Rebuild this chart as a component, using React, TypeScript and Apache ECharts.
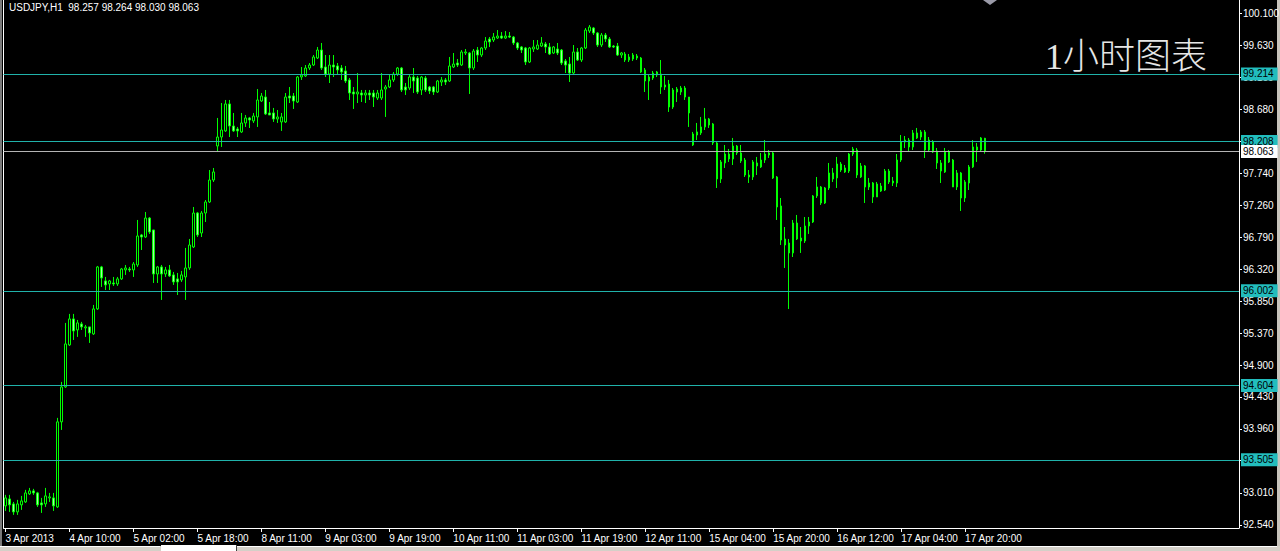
import React, { useEffect, useRef } from 'react';
import * as echarts from 'echarts';

const titleText = 'USDJPY,H1  98.257 98.264 98.030 98.063';
const noteText = '1小时图表';

const xTickLabels = [
  '3 Apr 2013', '4 Apr 10:00', '5 Apr 02:00', '5 Apr 18:00', '8 Apr 11:00', '9 Apr 03:00',
  '9 Apr 19:00', '10 Apr 11:00', '11 Apr 03:00', '11 Apr 19:00', '12 Apr 11:00', '15 Apr 04:00',
  '15 Apr 20:00', '16 Apr 12:00', '17 Apr 04:00', '17 Apr 20:00',
];
const barsPerTick = 16;
const slotCount = 309;

const yTickLabels = [
  '92.540', '93.010', '93.490', '93.960', '94.430', '94.900', '95.370', '95.850', '96.320',
  '96.790', '97.260', '97.740', '98.210', '98.680', '99.160', '99.630', '100.100',
];
const yMin = 92.492;
const yMax = 100.303;

const levelLines = [99.214, 98.208, 96.002, 94.604, 93.505];
const bidPrice = 98.063;

// [open, close, low, high] per H1 bar, from 3 Apr 18:00
const candles: number[][] = [
  [92.819, 92.937, 92.745, 92.982], [92.922, 92.834, 92.730, 92.982], [92.848, 92.730, 92.686, 92.878],
  [92.730, 92.848, 92.686, 92.908], [92.834, 92.893, 92.760, 92.967], [92.878, 93.011, 92.863, 93.056],
  [92.997, 93.041, 92.982, 93.085], [93.041, 93.011, 92.982, 93.071], [93.011, 92.834, 92.804, 93.026],
  [92.863, 92.834, 92.715, 92.937], [92.848, 92.967, 92.804, 93.085], [92.937, 92.952, 92.878, 93.011],
  [92.937, 92.819, 92.745, 93.011], [92.804, 94.062, 92.789, 94.121], [94.062, 94.579, 93.943, 94.653],
  [94.579, 95.215, 94.565, 95.526], [95.200, 95.585, 95.185, 95.659], [95.585, 95.407, 95.274, 95.659],
  [95.422, 95.526, 95.319, 95.570], [95.511, 95.467, 95.422, 95.541], [95.452, 95.467, 95.319, 95.496],
  [95.467, 95.378, 95.230, 95.467], [95.363, 95.733, 95.348, 95.792], [95.733, 96.354, 95.718, 96.369],
  [96.354, 96.191, 96.058, 96.369], [96.147, 96.088, 96.013, 96.206], [96.103, 96.147, 96.013, 96.162],
  [96.117, 96.103, 96.073, 96.206], [96.103, 96.177, 96.073, 96.206], [96.177, 96.324, 96.162, 96.339],
  [96.310, 96.339, 96.236, 96.383], [96.324, 96.310, 96.280, 96.354], [96.310, 96.398, 96.206, 96.427],
  [96.383, 96.812, 96.354, 97.049], [96.827, 96.797, 96.605, 96.842], [96.797, 97.078, 96.782, 97.167],
  [97.078, 96.871, 96.842, 97.093], [96.901, 96.250, 96.117, 96.901], [96.250, 96.354, 96.117, 96.369],
  [96.354, 96.250, 95.866, 96.383], [96.250, 96.310, 96.206, 96.354], [96.310, 96.221, 96.206, 96.383],
  [96.236, 96.132, 96.088, 96.280], [96.177, 96.132, 95.939, 96.265], [96.162, 96.236, 96.132, 96.295],
  [96.206, 96.339, 95.866, 96.635], [96.339, 96.679, 96.310, 96.768], [96.649, 97.152, 96.635, 97.241],
  [97.152, 96.827, 96.797, 97.167], [96.856, 97.152, 96.797, 97.182], [97.152, 97.315, 97.019, 97.344],
  [97.315, 97.640, 97.300, 97.788], [97.640, 97.759, 97.611, 97.818], [98.143, 98.276, 98.055, 98.558],
  [98.276, 98.380, 98.129, 98.779], [98.366, 98.765, 98.351, 98.824], [98.765, 98.439, 98.276, 98.824],
  [98.439, 98.366, 98.351, 98.632], [98.395, 98.366, 98.276, 98.425], [98.351, 98.484, 98.336, 98.632],
  [98.484, 98.558, 98.425, 98.602], [98.558, 98.528, 98.410, 98.573], [98.514, 98.587, 98.484, 98.632],
  [98.573, 98.824, 98.425, 98.986], [98.809, 98.883, 98.794, 98.927], [98.868, 98.617, 98.602, 98.972],
  [98.632, 98.602, 98.602, 98.794], [98.632, 98.543, 98.499, 98.706], [98.543, 98.573, 98.484, 98.676],
  [98.499, 98.573, 98.366, 98.632], [98.499, 98.868, 98.484, 98.927], [98.883, 98.853, 98.779, 99.016],
  [98.883, 98.809, 98.691, 98.927], [98.794, 99.164, 98.779, 99.179], [99.164, 99.193, 99.120, 99.312],
  [99.179, 99.297, 99.164, 99.341], [99.297, 99.341, 99.268, 99.371], [99.341, 99.460, 99.327, 99.489],
  [99.445, 99.563, 99.430, 99.608], [99.563, 99.297, 99.268, 99.667], [99.312, 99.208, 99.164, 99.489],
  [99.208, 99.341, 99.075, 99.489], [99.341, 99.312, 99.164, 99.489], [99.327, 99.268, 99.194, 99.371],
  [99.297, 99.238, 99.120, 99.341], [99.253, 99.105, 99.075, 99.327], [99.120, 98.927, 98.824, 99.149],
  [98.942, 98.913, 98.691, 99.016], [98.913, 98.942, 98.779, 99.223], [98.927, 98.898, 98.794, 98.972],
  [98.898, 98.927, 98.779, 98.972], [98.927, 98.898, 98.824, 98.972], [98.927, 98.868, 98.720, 98.972],
  [98.853, 98.927, 98.824, 98.972], [98.853, 98.972, 98.824, 99.223], [98.986, 99.016, 98.573, 99.046],
  [99.016, 99.120, 99.001, 99.208], [99.120, 99.208, 99.090, 99.238], [99.208, 99.297, 99.179, 99.312],
  [99.297, 98.972, 98.942, 99.312], [99.016, 98.972, 98.898, 99.075], [99.001, 99.164, 98.972, 99.194],
  [99.164, 99.105, 98.927, 99.297], [99.149, 98.942, 98.913, 99.179], [98.972, 99.164, 98.898, 99.179],
  [99.149, 98.972, 98.942, 99.179], [99.016, 98.957, 98.913, 99.031], [99.016, 98.942, 98.898, 99.031],
  [98.942, 99.105, 98.927, 99.120], [99.090, 99.120, 99.031, 99.164], [99.120, 99.090, 99.046, 99.149],
  [99.105, 99.327, 99.090, 99.460], [99.312, 99.356, 99.297, 99.519], [99.371, 99.341, 99.312, 99.430],
  [99.341, 99.534, 99.327, 99.563], [99.519, 99.534, 99.489, 99.578], [99.519, 99.297, 98.913, 99.534],
  [99.297, 99.548, 99.268, 99.578], [99.563, 99.489, 99.386, 99.608], [99.489, 99.593, 99.460, 99.608],
  [99.593, 99.696, 99.563, 99.755], [99.726, 99.682, 99.608, 99.755], [99.711, 99.755, 99.682, 99.815],
  [99.741, 99.770, 99.726, 99.859], [99.770, 99.741, 99.726, 99.829], [99.741, 99.770, 99.726, 99.844],
  [99.770, 99.755, 99.741, 99.829], [99.755, 99.667, 99.637, 99.770], [99.667, 99.593, 99.563, 99.682],
  [99.608, 99.563, 99.519, 99.622], [99.593, 99.386, 99.341, 99.608], [99.386, 99.593, 99.371, 99.608],
  [99.578, 99.608, 99.534, 99.711], [99.578, 99.637, 99.563, 99.711], [99.622, 99.667, 99.608, 99.755],
  [99.652, 99.608, 99.519, 99.682], [99.608, 99.504, 99.489, 99.667], [99.519, 99.608, 99.504, 99.622],
  [99.578, 99.519, 99.489, 99.667], [99.563, 99.371, 99.341, 99.578], [99.401, 99.341, 99.223, 99.430],
  [99.356, 99.223, 99.090, 99.460], [99.223, 99.534, 99.208, 99.637], [99.534, 99.415, 99.401, 99.593],
  [99.415, 99.593, 99.386, 99.608], [99.593, 99.859, 99.578, 99.889], [99.844, 99.903, 99.815, 99.933],
  [99.889, 99.815, 99.785, 99.903], [99.815, 99.637, 99.608, 99.829], [99.637, 99.785, 99.608, 99.815],
  [99.785, 99.726, 99.682, 99.815], [99.726, 99.608, 99.593, 99.755], [99.622, 99.608, 99.593, 99.637],
  [99.622, 99.489, 99.475, 99.667], [99.489, 99.519, 99.445, 99.534], [99.504, 99.415, 99.386, 99.534],
  [99.460, 99.415, 99.386, 99.504], [99.430, 99.489, 99.401, 99.519], [99.475, 99.445, 99.415, 99.504],
  [99.445, 99.238, 99.223, 99.460], [99.268, 99.105, 98.942, 99.297], [99.164, 99.105, 98.824, 99.194],
  [99.149, 99.223, 99.120, 99.253], [99.194, 99.238, 99.164, 99.253], [99.208, 99.016, 98.913, 99.415],
  [99.046, 99.016, 98.972, 99.179], [99.060, 98.720, 98.647, 99.120], [98.720, 98.972, 98.691, 99.001],
  [98.986, 98.942, 98.794, 99.016], [98.942, 99.001, 98.898, 99.031], [99.001, 98.868, 98.824, 99.031],
  [98.868, 98.632, 98.425, 98.868], [98.158, 98.321, 98.143, 98.351], [98.306, 98.351, 98.232, 98.484],
  [98.336, 98.425, 98.306, 98.573], [98.425, 98.543, 98.380, 98.706], [98.543, 98.454, 98.410, 98.558],
  [98.469, 98.188, 98.158, 98.484], [98.188, 97.655, 97.522, 98.203], [97.655, 97.907, 97.596, 97.936],
  [97.892, 98.025, 97.818, 98.158], [98.025, 97.951, 97.907, 98.099], [97.951, 98.143, 97.862, 98.262],
  [98.143, 98.040, 98.010, 98.158], [98.040, 97.922, 97.892, 98.158], [97.936, 97.714, 97.685, 97.966],
  [97.714, 97.685, 97.596, 97.788], [97.685, 97.907, 97.640, 97.936], [97.892, 97.848, 97.714, 97.981],
  [97.833, 97.936, 97.818, 98.040], [97.936, 98.025, 97.892, 98.232], [98.040, 98.010, 97.966, 98.084],
  [98.040, 97.670, 97.655, 98.055], [97.685, 97.241, 97.049, 97.699], [97.256, 96.753, 96.679, 97.374],
  [96.768, 96.679, 96.339, 96.945], [96.708, 96.561, 95.732, 96.768], [96.561, 97.004, 96.501, 97.049],
  [97.004, 96.768, 96.753, 97.123], [96.782, 96.738, 96.561, 96.945], [96.738, 96.960, 96.708, 97.093],
  [96.960, 97.019, 96.842, 97.093], [97.019, 97.404, 97.004, 97.418], [97.404, 97.537, 97.374, 97.685],
  [97.537, 97.300, 97.271, 97.551], [97.300, 97.522, 97.285, 97.537], [97.522, 97.744, 97.492, 97.892],
  [97.744, 97.655, 97.611, 97.818], [97.670, 97.877, 97.522, 97.981], [97.877, 97.788, 97.759, 97.907],
  [97.818, 97.759, 97.744, 97.862], [97.773, 98.025, 97.744, 98.040], [98.025, 98.099, 97.996, 98.129],
  [98.084, 97.714, 97.670, 98.114], [97.685, 97.848, 97.670, 97.892], [97.848, 97.537, 97.300, 97.862],
  [97.596, 97.537, 97.492, 97.670], [97.596, 97.389, 97.300, 97.611], [97.389, 97.581, 97.389, 97.611],
  [97.551, 97.477, 97.463, 97.596], [97.492, 97.773, 97.477, 97.803], [97.773, 97.611, 97.581, 97.803],
  [97.625, 97.596, 97.551, 97.685], [97.596, 97.936, 97.537, 98.025], [97.936, 98.203, 97.907, 98.306],
  [98.232, 98.203, 98.114, 98.291], [98.232, 98.129, 98.055, 98.262], [98.129, 98.336, 98.084, 98.380],
  [98.262, 98.336, 98.247, 98.410], [98.276, 98.351, 98.232, 98.380], [98.351, 98.084, 97.966, 98.380],
  [98.084, 98.232, 98.055, 98.276], [98.203, 98.055, 98.040, 98.232], [98.069, 97.892, 97.803, 98.114],
  [97.892, 97.773, 97.596, 97.936], [97.759, 98.055, 97.744, 98.114], [98.055, 97.907, 97.892, 98.084],
  [97.936, 97.537, 97.537, 97.951], [97.537, 97.744, 97.492, 97.788], [97.744, 97.374, 97.182, 97.759],
  [97.374, 97.611, 97.315, 97.640], [97.596, 97.833, 97.492, 97.862], [97.833, 98.129, 97.818, 98.232],
  [98.129, 98.084, 97.907, 98.188], [98.084, 98.262, 98.055, 98.276], [98.257, 98.063, 98.030, 98.264],
];

const uiFont = "'Liberation Sans', Arial, sans-serif";
const levelColor = '#20b2aa';
const levelLabelBg = '#22bdbd';

export default function App() {
  const ref = useRef<HTMLDivElement>(null);

  useEffect(() => {
    if (!ref.current) return;
    const chart = echarts.init(ref.current, undefined, { renderer: 'svg' });
    const slots = Array.from({ length: slotCount }, (_, i) => String(i));
    const showTick = (i: number) => i % barsPerTick === 0 && i < candles.length;
    const yTickValues = yTickLabels.map(Number);

    const lineLabel = (value: number, bg: string) => ({
      show: true,
      position: 'end',
      distance: 2,
      formatter: value.toFixed(3),
      backgroundColor: bg,
      color: '#000',
      fontSize: 10,
      fontFamily: uiFont,
      lineHeight: 12,
      padding: [1, 4, 0, 2],
    });

    chart.setOption({
      animation: false,
      backgroundColor: '#000',
      grid: { left: 3.5, right: 41, top: 0, bottom: 23, containLabel: false, outerBoundsMode: 'none' },
      xAxis: {
        type: 'category',
        data: slots,
        boundaryGap: true,
        axisLine: { show: true, lineStyle: { color: '#ffffff', width: 1 } },
        axisTick: { show: true, alignWithLabel: true, interval: showTick, length: 4, lineStyle: { color: '#ffffff' } },
        axisLabel: {
          interval: showTick,
          formatter: (_v: string, i: number) => xTickLabels[i / barsPerTick] ?? '',
          color: '#ffffff',
          fontSize: 10,
          fontFamily: uiFont,
          align: 'left',
          margin: 5,
          hideOverlap: false,
        },
        splitLine: { show: false },
      },
      yAxis: {
        type: 'value',
        position: 'right',
        min: yMin,
        max: yMax,
        axisLine: { show: true, lineStyle: { color: '#ffffff', width: 1 } },
        axisTick: { show: true, length: 3, lineStyle: { color: '#ffffff' }, customValues: yTickValues },
        axisLabel: {
          customValues: yTickValues,
          formatter: (v: number) => v.toFixed(3),
          color: '#ffffff',
          fontSize: 10,
          fontFamily: uiFont,
          margin: 4,
        },
        splitLine: { show: false },
      },
      series: [
        {
          type: 'candlestick',
          data: candles,
          barWidth: 2,
          itemStyle: {
            color: '#000000',
            color0: '#a6f5a6',
            borderColor: '#00ff00',
            borderColor0: '#00ff00',
            borderWidth: 1,
          },
          markLine: {
            silent: true,
            symbol: ['none', 'none'],
            animation: false,
            data: [
              ...levelLines.map((v) => ({
                yAxis: v,
                lineStyle: { color: levelColor, type: 'solid', width: 1 },
                label: lineLabel(v, levelLabelBg),
              })),
              {
                yAxis: bidPrice,
                lineStyle: { color: '#b4b4b4', type: 'solid', width: 1 },
                label: lineLabel(bidPrice, '#ffffff'),
              },
            ],
          },
        },
      ],
      graphic: [
        { type: 'rect', shape: { x: 0, y: 0, width: 2, height: 546 }, style: { fill: '#7a7a7a' }, silent: true },
        { type: 'line', shape: { x1: 3.5, y1: 0, x2: 3.5, y2: 528 }, style: { stroke: '#ffffff', lineWidth: 1 }, silent: true },
        { type: 'rect', shape: { x: 1277, y: 0, width: 3, height: 551 }, style: { fill: '#c8c4bc' }, silent: true },
        { type: 'rect', shape: { x: 0, y: 546, width: 1280, height: 5 }, style: { fill: '#d4d0c8' }, silent: true },
        { type: 'line', shape: { x1: 0, y1: 546.5, x2: 160, y2: 546.5 }, style: { stroke: '#ffffff', lineWidth: 1 }, silent: true },
        { type: 'rect', shape: { x: 161, y: 545, width: 75, height: 6 }, style: { fill: '#ffffff' }, silent: true },
        { type: 'line', shape: { x1: 236.5, y1: 545, x2: 236.5, y2: 551 }, style: { stroke: '#404040', lineWidth: 1 }, silent: true },
        { type: 'line', shape: { x1: 237, y1: 546.5, x2: 1277, y2: 546.5 }, style: { stroke: '#ffffff', lineWidth: 1 }, silent: true },
        {
          type: 'polygon',
          shape: { points: [[983, 0], [997, 0], [990, 5]] },
          style: { fill: '#9a9aa8' },
          silent: true,
        },
        {
          type: 'text',
          x: 9,
          y: 2,
          style: {
            text: titleText,
            fill: '#ffffff',
            fontSize: 10,
            fontFamily: uiFont,
            textAlign: 'left',
            textVerticalAlign: 'top',
          },
          silent: true,
        },
        {
          type: 'text',
          x: 1045,
          y: 57,
          style: {
            text: noteText,
            fill: '#e6e6e6',
            fontSize: 36,
            fontFamily: "'Liberation Serif', 'Noto Sans CJK SC', serif",
            fontWeight: 300,
            textAlign: 'left',
            textVerticalAlign: 'middle',
          },
          silent: true,
        },
      ],
    });

    return () => chart.dispose();
  }, []);

  return (
    <div
      ref={ref}
      style={{ position: 'fixed', left: 0, top: 0, width: 1280, height: 551, background: '#000' }}
    />
  );
}
